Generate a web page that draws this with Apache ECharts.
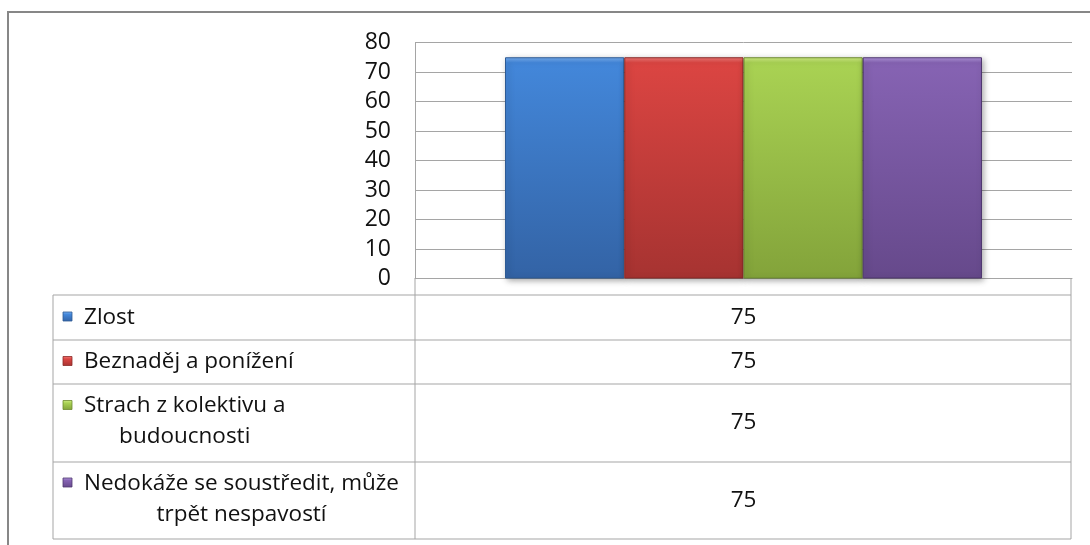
<!DOCTYPE html>
<html><head><meta charset="utf-8">
<script src="https://cdn.jsdelivr.net/npm/echarts@6/dist/echarts.min.js"></script>
<style>html,body{margin:0;padding:0;background:#fff}#c{width:1090px;height:545px}</style>
</head><body><div id="c"></div>
<script>
// ---- data ----
const categories = [''];
const seriesNames = ['Zlost', 'Beznaděj a ponížení', 'Strach z kolektivu a budoucnosti', 'Nedokáže se soustředit, může trpět nespavostí'];
const zlost = [75];
const beznadej = [75];
const strach = [75];
const nedokaze = [75];
const yAxisTicks = [0, 10, 20, 30, 40, 50, 60, 70, 80];

// ---- styles / layout ----
const seriesValues = [zlost, beznadej, strach, nedokaze];
const wrapAfterWords = [0, 0, 4, 4];
const palette = [
  {hi:'#79b0f2', top:'#4387da', bot:'#3363a5', border:'#2d5a94'},
  {hi:'#f07a78', top:'#db4542', bot:'#a63331', border:'#8a2927'},
  {hi:'#d2ee86', top:'#a9d253', bot:'#83a33a', border:'#6d8a2f'},
  {hi:'#b297dd', top:'#8663b3', bot:'#66498b', border:'#4e376f'}
];
const FONT = '"Open Sans", "Noto Sans", sans-serif';
const FS = 22.5;
const FS_AXIS = 23;
const plot = {left: 415, right: 1072, top: 42.5, bottom: 278.5};
const tableLeft = 53, tableRight = 1071;
const rowY = [295, 340, 384, 462, 539];
const textX = 84, keyX = 63, keySize = 9;
const lineH = 31;
const lineColor = '#a5a5a5';
const textColor = '#111';

const chart = echarts.init(document.getElementById('c'));
const ctx = document.createElement('canvas').getContext('2d');
ctx.font = FS + 'px ' + FONT;

function grad(p) {
  return new echarts.graphic.LinearGradient(0, 0, 0, 1, [
    {offset: 0, color: p.hi}, {offset: 0.025, color: p.top}, {offset: 1, color: p.bot}
  ]);
}
function keyGrad(p) {
  return new echarts.graphic.LinearGradient(0, 0, 0, 1, [
    {offset: 0, color: p.hi}, {offset: 0.3, color: p.top}, {offset: 1, color: p.bot}
  ]);
}

const graphics = [];
// outer frame
graphics.push({type: 'rect', shape: {x: 8, y: 12, width: 1100, height: 560}, style: {fill: 'none', stroke: '#878787', lineWidth: 2}, z: 0, silent: true});
// table lines
function hline(y, x1, x2) { graphics.push({type: 'line', shape: {x1: x1, y1: y, x2: x2, y2: y}, style: {stroke: lineColor, lineWidth: 1}, z: 5}); }
function vline(x, y1, y2) { graphics.push({type: 'line', shape: {x1: x, y1: y1, x2: x, y2: y2}, style: {stroke: lineColor, lineWidth: 1}, z: 5}); }
rowY.forEach(y => hline(y, tableLeft, tableRight));
vline(tableLeft, rowY[0], rowY[rowY.length - 1]);
vline(plot.left, plot.bottom, rowY[rowY.length - 1]);
vline(tableRight, plot.bottom, rowY[rowY.length - 1]);

seriesNames.forEach((name, i) => {
  const words = name.split(' ');
  const lines = wrapAfterWords[i] ? [words.slice(0, wrapAfterWords[i]).join(' '), words.slice(wrapAfterWords[i]).join(' ')] : [name];
  const widths = lines.map(l => ctx.measureText(l).width);
  const maxW = Math.max.apply(null, widths);
  const cx = textX + maxW / 2;
  const y0 = rowY[i], y1 = rowY[i + 1];
  const mid = (y0 + y1) / 2;
  const firstY = mid - (lines.length - 1) * lineH / 2 - (lines.length > 1 ? 1.5 : 0);
  lines.forEach((l, k) => {
    graphics.push({type: 'text', x: cx, y: firstY + k * lineH, style: {text: l, font: FS + 'px ' + FONT, fill: textColor, align: 'center', verticalAlign: 'middle'}, z: 6});
  });
  graphics.push({type: 'rect', shape: {x: keyX, y: firstY - keySize / 2 - 1, width: keySize, height: keySize}, style: {fill: keyGrad(palette[i]), stroke: palette[i].border, lineWidth: 0.8}, z: 6});
  graphics.push({type: 'text', x: (plot.left + plot.right) / 2, y: mid, style: {text: String(seriesValues[i][0]), font: FS + 'px ' + FONT, fill: textColor, align: 'center', verticalAlign: 'middle'}, z: 6});
});

const option = {
  animation: false,
  backgroundColor: '#fff',
  grid: {left: plot.left, right: 1090 - plot.right, top: plot.top, bottom: 545 - plot.bottom, containLabel: false},
  xAxis: {
    type: 'category', data: categories,
    axisLine: {show: true, lineStyle: {color: lineColor, width: 1}},
    axisTick: {show: false}, axisLabel: {show: false}, splitLine: {show: false}
  },
  yAxis: {
    type: 'value', min: yAxisTicks[0], max: yAxisTicks[yAxisTicks.length - 1], interval: yAxisTicks[1] - yAxisTicks[0],
    axisLine: {show: true, lineStyle: {color: lineColor, width: 1}},
    axisTick: {show: false},
    axisLabel: {color: textColor, fontSize: FS_AXIS, fontFamily: FONT, margin: 24},
    splitLine: {show: true, lineStyle: {color: lineColor, width: 1}}
  },
  series: seriesNames.map((n, i) => ({
    name: n, type: 'bar', data: seriesValues[i],
    barGap: '0%', barCategoryGap: '27.4%',
    itemStyle: {color: grad(palette[i]), borderColor: palette[i].border, borderWidth: 1,
      shadowBlur: 6, shadowColor: 'rgba(0,0,0,0.35)', shadowOffsetX: 2, shadowOffsetY: 2}
  })),
  graphic: graphics
};
chart.setOption(option);
</script></body></html>
